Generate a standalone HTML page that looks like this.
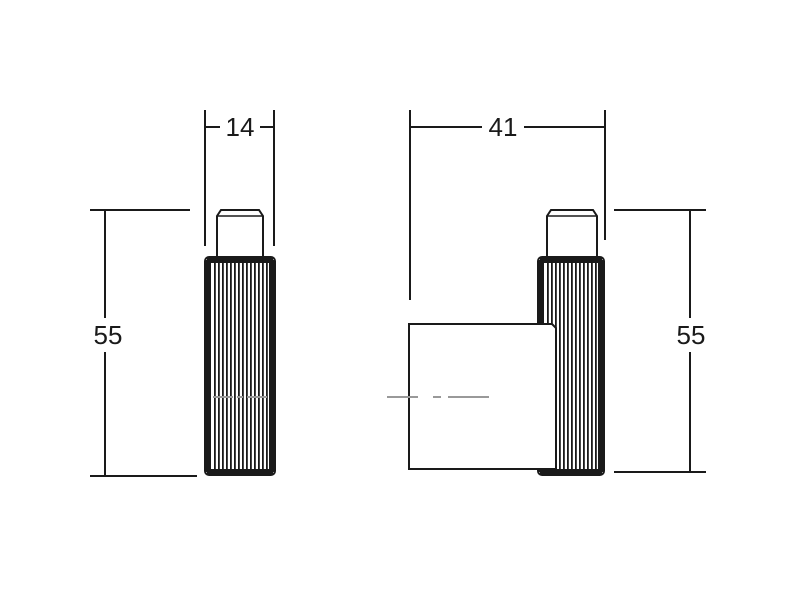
<!DOCTYPE html><html><head><style>html,body{margin:0;background:#fff}svg{display:block}</style></head><body>
<svg width="800" height="600" viewBox="0 0 800 600" xmlns="http://www.w3.org/2000/svg" font-family="Liberation Sans, sans-serif">
<g stroke="#1a1a1a" stroke-width="2" fill="none">
<!-- 14 dim -->
<line x1="205" y1="110" x2="205" y2="246"/><line x1="274" y1="110" x2="274" y2="246"/>
<line x1="205" y1="127" x2="220" y2="127"/><line x1="260" y1="127" x2="274" y2="127"/>
<!-- 41 dim -->
<line x1="410" y1="110" x2="410" y2="300"/><line x1="605" y1="110" x2="605" y2="240"/>
<line x1="410" y1="127" x2="482" y2="127"/><line x1="524" y1="127" x2="605" y2="127"/>
<!-- left 55 -->
<line x1="90" y1="210" x2="190" y2="210"/><line x1="90" y1="476" x2="197" y2="476"/>
<line x1="105" y1="210" x2="105" y2="318"/><line x1="105" y1="352" x2="105" y2="476"/>
<!-- right 55 -->
<line x1="614" y1="210" x2="706" y2="210"/><line x1="614" y1="472" x2="706" y2="472"/>
<line x1="690" y1="210" x2="690" y2="318"/><line x1="690" y1="352" x2="690" y2="472"/>
<!-- left pin -->
<path d="M217 257 V216 L221 210 H259 L263 216 V257"/>
<line x1="217" y1="216" x2="263" y2="216" stroke-width="1.5"/>
<!-- right pin -->
<path d="M547 257 V216 L551 210 H593 L597 216 V257"/>
<line x1="547" y1="216" x2="597" y2="216" stroke-width="1.5"/>
</g>
<g fill="#1a1a1a">
<!-- left knurl -->
<rect x="205" y="257" width="70" height="218" rx="4" fill="#fff" stroke="#1a1a1a" stroke-width="2"/>
<rect x="205" y="260" width="6" height="212"/><rect x="269" y="260" width="6" height="212"/>
<rect x="207" y="257" width="66" height="6"/><rect x="207" y="469" width="66" height="6"/>
<g>
<rect x="214" y="262" width="1.8" height="208"/><rect x="218" y="262" width="1.8" height="208"/><rect x="222" y="262" width="1.8" height="208"/><rect x="226" y="262" width="1.8" height="208"/><rect x="230" y="262" width="1.8" height="208"/><rect x="234" y="262" width="1.8" height="208"/><rect x="238" y="262" width="1.8" height="208"/><rect x="242" y="262" width="1.8" height="208"/><rect x="246" y="262" width="1.8" height="208"/><rect x="250" y="262" width="1.8" height="208"/><rect x="254" y="262" width="1.8" height="208"/><rect x="258" y="262" width="1.8" height="208"/><rect x="262" y="262" width="1.8" height="208"/><rect x="266" y="262" width="1.8" height="208"/>
</g>
<!-- right knurl -->
<rect x="538" y="257" width="66" height="218" rx="4" fill="#fff" stroke="#1a1a1a" stroke-width="2"/>
<rect x="538" y="260" width="6" height="212"/><rect x="598" y="260" width="6" height="212"/>
<rect x="540" y="257" width="62" height="6"/><rect x="540" y="469" width="62" height="6"/>
<rect x="547" y="262" width="1.8" height="208"/><rect x="551" y="262" width="1.8" height="208"/><rect x="555" y="262" width="1.8" height="208"/><rect x="559" y="262" width="1.8" height="208"/><rect x="563" y="262" width="1.8" height="208"/><rect x="567" y="262" width="1.8" height="208"/><rect x="571" y="262" width="1.8" height="208"/><rect x="575" y="262" width="1.8" height="208"/><rect x="579" y="262" width="1.8" height="208"/><rect x="583" y="262" width="1.8" height="208"/><rect x="587" y="262" width="1.8" height="208"/><rect x="591" y="262" width="1.8" height="208"/><rect x="595" y="262" width="1.8" height="208"/>
</g>
<!-- box -->
<path d="M409 324 H552 L556 328 V469 H409 Z" fill="#fff" stroke="#1a1a1a" stroke-width="2"/>
<!-- centerlines -->
<g stroke="#999" stroke-width="2">
<line x1="213" y1="397" x2="268" y2="397" stroke-dasharray="20 4 6 4"/>
<line x1="387" y1="397" x2="418" y2="397"/><line x1="433" y1="397" x2="441" y2="397"/><line x1="448" y1="397" x2="489" y2="397"/>
</g>
<g fill="#1a1a1a" font-size="26">
<text x="240" y="136" text-anchor="middle">14</text>
<text x="503" y="136" text-anchor="middle">41</text>
<text x="108" y="344" text-anchor="middle">55</text>
<text x="691" y="344" text-anchor="middle">55</text>
</g>
</svg>
</body></html>
